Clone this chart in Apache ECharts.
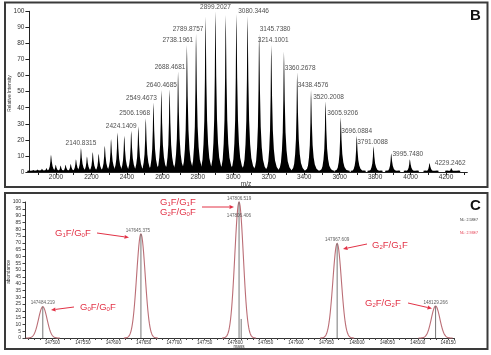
<!DOCTYPE html>
<html><head><meta charset="utf-8">
<script src="https://cdn.jsdelivr.net/npm/echarts@6/dist/echarts.min.js"></script>
<style>html,body{margin:0;padding:0;background:#fff}#c{width:491px;height:355px}</style>
</head><body><div id="c"></div>
<script>
// ---------- Panel B : native mass spectrum (m/z vs relative intensity) ----------
const msMz = [1872.0, 1896.0, 1920.6, 1945.8, 1971.7, 1998.4, 2025.8, 2053.9, 2082.8, 2112.5,
  2140.8315, 2174.6, 2207.1, 2240.5, 2275.0, 2310.5, 2347.2, 2385.0,
  2424.1409, 2464.4, 2506.1968, 2549.4673, 2594.1, 2640.4685, 2688.4681, 2738.1961, 2789.8757, 2843.4,
  2899.2027, 2957.1, 3017.4, 3080.3446, 3145.7380, 3214.1001, 3285.7, 3360.2678, 3438.4576, 3520.2008,
  3605.9206, 3696.0884, 3791.0088, 3890.7, 3995.7480, 4106.8, 4229.2462];
const msIntensity = [1.2, 1.5, 2, 2.5, 10.8, 4.5, 4, 4.5, 5, 8,
  15, 9.7, 12.4, 11.4, 16.4, 20.5, 24.6, 22.6,
  25.7, 28.4, 33.5, 43.3, 51, 51.5, 62.5, 79, 86, 96.7,
  100, 97.7, 98.3, 97, 86, 79, 75, 62, 51, 44,
  34, 22.5, 16, 11.6, 8, 5.6, 2.5];
const msLabels = ['2140.8315','2424.1409','2506.1968','2549.4673','2640.4685','2688.4681','2738.1961',
  '2789.8757','2899.2027','3080.3446','3145.7380','3214.1001','3360.2678','3438.4576','3520.2008',
  '3605.9206','3696.0884','3791.0088','3995.7480','4229.2462'];
const mzTickLabels = [2000, 2200, 2400, 2600, 2800, 3000, 3200, 3400, 3600, 3800, 4000, 4200];

// ---------- Panel C : deconvoluted mass spectrum ----------
const decoMass = [147484.219, 147645.375, 147806.519, 147967.609, 148129.266];
const decoAbund = [23, 76.5, 100, 69.5, 23.5];
const decoSigma = [7, 7, 7, 7, 7];
const stickMass = [147484.219, 147645.375, 147806.519, 147810.0, 147967.609, 148129.266];
const stickAbund = [23, 76.5, 100, 14, 69.5, 23.5];
const decoLabels = ['147484.219','147645.375','147806.519','147806.406','147967.609','148129.266'];
const decoLabelAbund = [23, 76.5, 100, 100, 69.5, 23.5];
const glycoforms = [['0','0'], ['1','0'], ['1','1','2','0'], ['2','1'], ['2','2']];
const massTickLabels = [147500,147550,147600,147650,147700,147750,147800,147850,147900,147950,148000,148050,148100,148150];

// ---------- styling / layout (not data) ----------
const FONT = 'Liberation Sans, Arial, sans-serif';
const RED = '#e23246';
const msLabelShift = [0,-10,-11,-12,-8,-8,-9,-8,0,6,16,2,3,2,3,2,0,-1,-2,-1];
const decoLabelShift = [[0,0],[-3,0],[0,0],[0,17],[0,0],[0,0]];

function range(a, b, s) { const r = []; for (let v = a; v <= b + 1e-9; v += s) r.push(v); return r; }
const plain = v => String(Math.round(v));

const chart = echarts.init(document.getElementById('c'));

const peakProfile = [[-3,0.08],[-2,0.18],[-1.2,0.33],[-0.6,0.6],[-0.25,0.9],[0,1],[0.3,0.9],[0.8,0.6],[1.6,0.33],[2.6,0.18],[3.8,0.09],[5.5,0.04]];

const option = {
  animation: false,
  backgroundColor: '#fff',
  grid: [
    { left: 29.4, top: 11.3, width: 437.9, height: 160.7 },
    { left: 25, top: 202, width: 429.3, height: 136 }
  ],
  xAxis: [
    { gridIndex: 0, type: 'value', min: 1850, max: 4320,
      axisLine: { lineStyle: { color: '#222', width: 1 } },
      axisTick: { customValues: range(1900, 4300, 100), length: 3, lineStyle: { color: '#222' } },
      axisLabel: { customValues: mzTickLabels, formatter: plain, fontSize: 6.5, color: '#333', fontFamily: FONT, margin: 2 },
      splitLine: { show: false } },
    { gridIndex: 1, type: 'value', min: 147455, max: 148160,
      axisLine: { lineStyle: { color: '#333', width: 1 } },
      axisTick: { customValues: range(147460, 148160, 10), length: 2, lineStyle: { color: '#444' } },
      axisLabel: { customValues: massTickLabels, formatter: plain, fontSize: 4.6, color: '#333', fontFamily: FONT, margin: 2 },
      splitLine: { show: false } }
  ],
  yAxis: [
    { gridIndex: 0, type: 'value', min: 0, max: 100, interval: 10,
      axisLine: { show: true, lineStyle: { color: '#222' } },
      axisTick: { show: true, length: 4, lineStyle: { color: '#222' } },
      axisLabel: { fontSize: 6.5, color: '#333', fontFamily: FONT, margin: 5 },
      splitLine: { show: false } },
    { gridIndex: 1, type: 'value', min: 0, max: 100, interval: 5,
      axisLine: { show: true, lineStyle: { color: '#333' } },
      axisTick: { show: true, length: 2.5, lineStyle: { color: '#444' } },
      axisLabel: { fontSize: 5, color: '#333', fontFamily: FONT, margin: 4 },
      splitLine: { show: false } }
  ],
  series: [
    { type: 'custom', xAxisIndex: 0, yAxisIndex: 0,
      data: msMz.map((m, i) => [m, msIntensity[i]]),
      renderItem: function (params, api) {
        const top = api.coord([api.value(0), api.value(1)]);
        const base = api.coord([api.value(0), 0]);
        const h = base[1] - top[1];
        const pts = [[top[0] - 6, base[1]], [top[0] - 6, base[1] - 1.2], [top[0] - 4, base[1] - Math.max(1.5, h * 0.04)]];
        peakProfile.forEach(p => pts.push([top[0] + p[0], base[1] - Math.max(1.2, h * p[1])]));
        pts.push([top[0] + 7.5, base[1] - Math.max(1.4, h * 0.015)], [top[0] + 9, base[1] - 1.2], [top[0] + 9, base[1]]);
        return { type: 'polygon', shape: { points: pts }, style: { fill: '#000' } };
      } },
    { type: 'scatter', xAxisIndex: 0, yAxisIndex: 0, symbolSize: 0, silent: true,
      data: msLabels.map((t, i) => {
        const m = parseFloat(t);
        const idx = msMz.findIndex(v => Math.abs(v - m) < 1e-6);
        return { value: [m, msIntensity[idx]], name: t, label: { offset: [msLabelShift[i], 0] } };
      }),
      label: { show: true, position: 'top', distance: 1, formatter: p => p.name,
        fontSize: 6.5, color: '#222', fontFamily: FONT } },
    { type: 'custom', xAxisIndex: 1, yAxisIndex: 1,
      data: decoMass.map((m, i) => [m, decoAbund[i], decoSigma[i]]),
      renderItem: function (params, api) {
        const c = api.value(0), a = api.value(1), s = api.value(2);
        const pts = [];
        for (let k = -32; k <= 32; k++) {
          const x = c + k * s / 8;
          pts.push(api.coord([x, a * Math.exp(-0.5 * (k / 8) * (k / 8))]));
        }
        return { type: 'polyline', shape: { points: pts }, style: { stroke: '#bb6e76', lineWidth: 1.1, fill: null } };
      } },
    { type: 'custom', xAxisIndex: 1, yAxisIndex: 1,
      data: stickMass.map((m, i) => [m, stickAbund[i]]),
      renderItem: function (params, api) {
        const p1 = api.coord([api.value(0), 0]);
        const p2 = api.coord([api.value(0), api.value(1)]);
        return { type: 'line', shape: { x1: p1[0], y1: p1[1], x2: p2[0], y2: p2[1] }, style: { stroke: '#777', lineWidth: 1 } };
      } },
    { type: 'scatter', xAxisIndex: 1, yAxisIndex: 1, symbolSize: 0, silent: true,
      data: decoLabels.map((t, i) => ({ value: [parseFloat(t), decoLabelAbund[i]], name: t,
        label: { offset: decoLabelShift[i] } })),
      label: { show: true, position: 'top', distance: 1, formatter: p => p.name,
        fontSize: 4.6, color: '#333', fontFamily: FONT } }
  ]
};
chart.setOption(option);

// ---------- annotations (frames, panel letters, glycoform labels with arrows) ----------
function glyco(pair) {
  return '{n|G}{s|' + pair[0] + '}{n|F/G}{s|' + pair[1] + '}{n|F}';
}
const rich = {
  n: { fontSize: 9.5, fill: RED, fontFamily: FONT, lineHeight: 11, verticalAlign: 'middle' },
  s: { fontSize: 6, fill: RED, fontFamily: FONT, lineHeight: 11, verticalAlign: 'bottom', padding: [4, 0, 0, 0] }
};
function gText(x, y, pair) {
  return { type: 'text', x: x, y: y, silent: true,
    style: { text: glyco(pair), rich: rich, textVerticalAlign: 'middle', textAlign: 'left' } };
}
function arrow(x1, y1, x2, y2) {
  const ang = Math.atan2(y2 - y1, x2 - x1), L = 4.5, W = 2;
  const bx = x2 - L * Math.cos(ang), by = y2 - L * Math.sin(ang);
  const px = -Math.sin(ang) * W, py = Math.cos(ang) * W;
  return [
    { type: 'line', silent: true, shape: { x1: x1, y1: y1, x2: bx, y2: by }, style: { stroke: RED, lineWidth: 1 } },
    { type: 'polygon', silent: true, shape: { points: [[x2, y2], [bx + px, by + py], [bx - px, by - py]] }, style: { fill: RED } }
  ];
}
const gr = [
  { type: 'rect', silent: true, shape: { x: 5, y: 2.5, width: 482.5, height: 184.5 }, style: { fill: null, stroke: '#3a3a3a', lineWidth: 2 } },
  { type: 'rect', silent: true, shape: { x: 5, y: 193, width: 482.5, height: 156 }, style: { fill: null, stroke: '#3a3a3a', lineWidth: 2 } },
  { type: 'text', silent: true, x: 475.5, y: 15.5, style: { text: 'B', font: 'bold 15px ' + FONT, fill: '#111', textAlign: 'center', textVerticalAlign: 'middle' } },
  { type: 'text', silent: true, x: 475.5, y: 205.5, style: { text: 'C', font: 'bold 15px ' + FONT, fill: '#111', textAlign: 'center', textVerticalAlign: 'middle' } },
  { type: 'text', silent: true, x: 460, y: 220, style: { text: 'NL: 2.58E7', font: '3.6px ' + FONT, fill: '#333', textVerticalAlign: 'middle' } },
  { type: 'text', silent: true, x: 460, y: 232.5, style: { text: 'NL: 2.93E7', font: '3.6px ' + FONT, fill: RED, textVerticalAlign: 'middle' } },
  { type: 'text', silent: true, x: 9.5, y: 93.5, rotation: Math.PI / 2, style: { text: 'Relative Intensity', font: '4.8px ' + FONT, fill: '#333', textAlign: 'center', textVerticalAlign: 'middle' } },
  { type: 'text', silent: true, x: 246, y: 184, style: { text: 'm/z', font: '6.5px ' + FONT, fill: '#333', textAlign: 'center', textVerticalAlign: 'middle' } },
  { type: 'text', silent: true, x: 8.5, y: 272, rotation: Math.PI / 2, style: { text: 'abundance', font: '4.8px ' + FONT, fill: '#333', textAlign: 'center', textVerticalAlign: 'middle' } },
  { type: 'text', silent: true, x: 239, y: 346.5, style: { text: 'mass', font: '4.6px ' + FONT, fill: '#333', textAlign: 'center', textVerticalAlign: 'middle' } },
  gText(80, 307, glycoforms[0]),
  gText(55, 233, glycoforms[1]),
  gText(160, 202, glycoforms[2].slice(0, 2)),
  gText(160, 212, glycoforms[2].slice(2, 4)),
  gText(372, 245, glycoforms[3]),
  gText(365, 303, glycoforms[4])
].concat(arrow(74, 307, 51, 310), arrow(97, 233, 129, 237.5), arrow(202, 207, 234, 207),
         arrow(367, 244, 343, 249), arrow(408, 303, 432, 308.5));
chart.setOption({ graphic: gr });
</script>
</body></html>
